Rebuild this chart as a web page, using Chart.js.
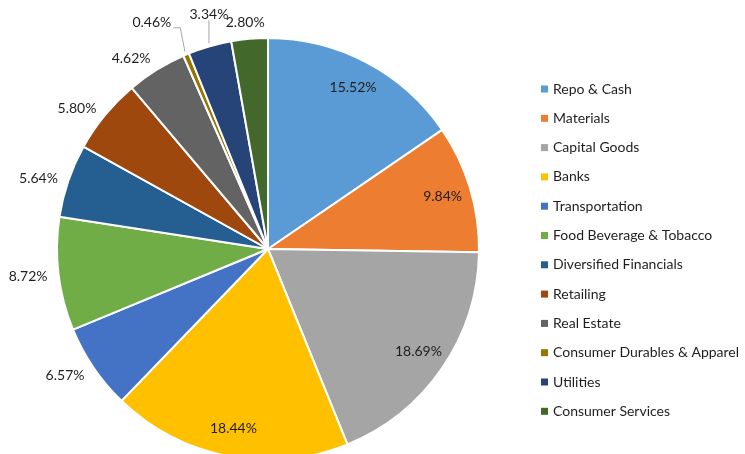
<!DOCTYPE html>
<html><head><meta charset="utf-8">
<script src="https://cdn.jsdelivr.net/npm/chart.js@4"></script>
<style>
html,body{margin:0;padding:0;overflow:hidden;background:#fff}
#wrap{position:relative;width:745px;height:500px}
</style>
</head><body><div id="wrap"><canvas id="c"></canvas></div>
<script>
const categories = ["Repo & Cash","Materials","Capital Goods","Banks","Transportation","Food Beverage & Tobacco","Diversified Financials","Retailing","Real Estate","Consumer Durables & Apparel","Utilities","Consumer Services"];
const shares = [15.52, 9.84, 18.69, 18.44, 6.57, 8.72, 5.64, 5.80, 4.62, 0.46, 3.34, 2.80];
const sliceColors = ["#5B9BD5","#ED7D31","#A5A5A5","#FFC000","#4472C4","#70AD47","#255E91","#9E480E","#636363","#997300","#264478","#43682B"];

const FONT = "Lato, 'Open Sans', sans-serif";
const TEXT = "#1e1e1e";

const sliceLabels = {
  id: 'sliceLabels',
  afterDatasetsDraw(chart, args, opts) {
    const ctx = chart.ctx;
    const meta = chart.getDatasetMeta(0);
    ctx.save();
    ctx.font = opts.fontSize + 'px ' + FONT;
    ctx.fillStyle = TEXT;
    meta.data.forEach((arc, i) => {
      const p = arc.getProps(['x','y','startAngle','endAngle','outerRadius'], true);
      const mid = (p.startAngle + p.endAngle) / 2;
      const c = Math.cos(mid), s = Math.sin(mid);
      const R = p.outerRadius + 1;
      const text = shares[i].toFixed(2) + '%';
      const w = ctx.measureText(text).width, h = 12;
      ctx.textBaseline = 'middle';
      const lead = opts.leaders[chart.data.labels[i]];
      if (shares[i] >= opts.insideMin) {
        ctx.textAlign = 'center';
        ctx.fillText(text, p.x + c * R * opts.insideRatio, p.y + s * R * opts.insideRatio);
      } else if (lead) {
        const sx = p.x + c * (R + 2), sy = p.y + s * (R + 2);
        const ex = lead.side === 'left' ? sx + c * 12 : sx;
        const ey = sy - lead.lift;
        ctx.strokeStyle = opts.leaderColor;
        ctx.lineWidth = 1;
        ctx.beginPath();
        ctx.moveTo(sx, sy);
        ctx.lineTo(ex, ey);
        if (lead.side === 'left') {
          ctx.lineTo(ex - 7, ey);
          ctx.stroke();
          ctx.textAlign = 'right';
          ctx.fillText(text, ex - 9, ey - 5);
        } else {
          ctx.stroke();
          ctx.textAlign = 'center';
          ctx.fillText(text, ex, ey - 6);
        }
      } else {
        const ax = p.x + c * (R + opts.gap), ay = p.y + s * (R + opts.gap);
        const k = Math.max(-1, Math.min(1, 2 * c));
        ctx.textAlign = 'center';
        ctx.fillText(text, ax + k * w / 2, ay + Math.pow(s, 5) * h / 2 + 1);
      }
    });
    ctx.restore();
  }
};

const sideLegend = {
  id: 'sideLegend',
  afterDraw(chart, args, opts) {
    const ctx = chart.ctx;
    const ds = chart.data.datasets[0];
    ctx.save();
    ctx.font = opts.fontSize + 'px ' + FONT;
    ctx.textAlign = 'left';
    ctx.textBaseline = 'middle';
    chart.data.labels.forEach((lab, i) => {
      const y = opts.top + i * opts.step;
      ctx.fillStyle = ds.backgroundColor[i];
      ctx.fillRect(opts.x, y - opts.box / 2, opts.box, opts.box);
      ctx.fillStyle = TEXT;
      ctx.fillText(lab, opts.x + opts.box + 5, y);
    });
    ctx.restore();
  }
};

new Chart(document.getElementById('c'), {
  type: 'pie',
  data: {
    labels: categories,
    datasets: [{
      data: shares,
      backgroundColor: sliceColors,
      borderColor: '#ffffff',
      borderWidth: 2
    }]
  },
  options: {
    responsive: true,
    maintainAspectRatio: false,
    animation: false,
    events: [],
    layout: { padding: { left: 56, top: 37, right: 265, bottom: 39 } },
    plugins: {
      legend: { display: false },
      tooltip: { enabled: false },
      sliceLabels: {
        fontSize: 14, insideMin: 9, insideRatio: 0.86, gap: 10,
        leaderColor: '#A6A6A6',
        leaders: {
          'Consumer Durables & Apparel': { lift: 24, side: 'left' },
          'Utilities': { lift: 23, side: 'up' }
        }
      },
      sideLegend: { fontSize: 14, x: 541, top: 89, step: 29.3, box: 7 }
    }
  },
  plugins: [sliceLabels, sideLegend]
});
</script>
</body></html>
